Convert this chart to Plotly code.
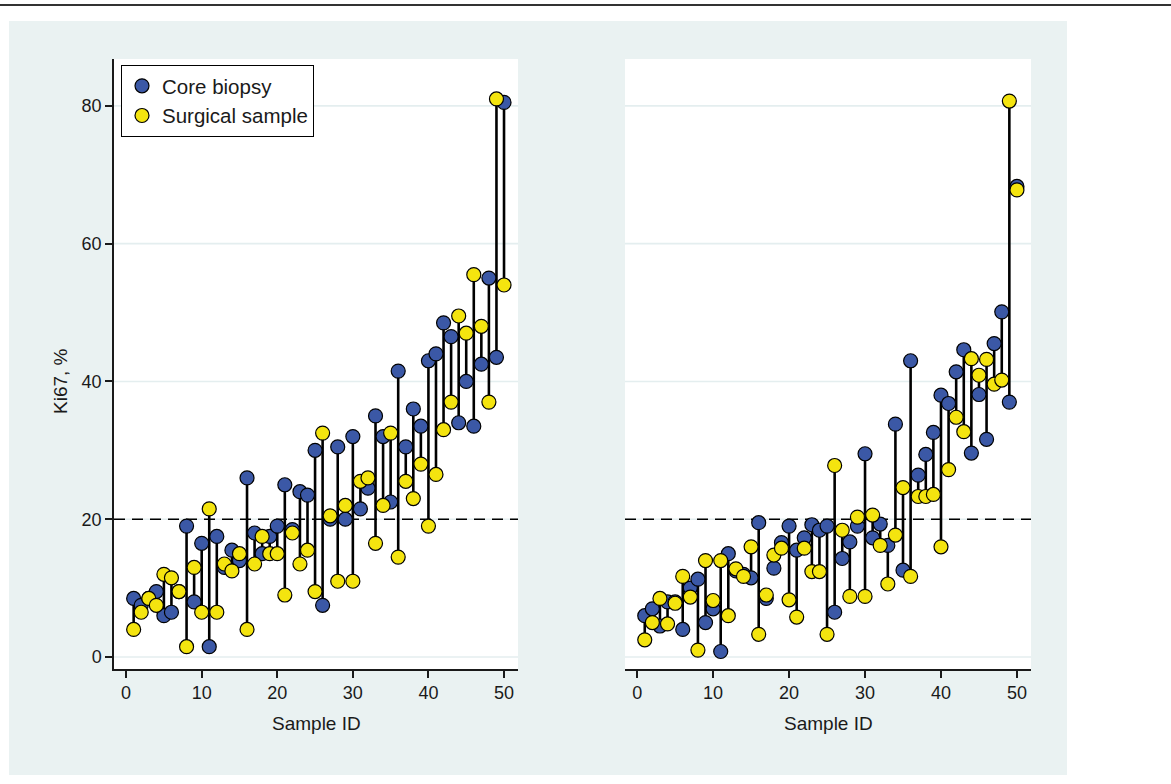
import plotly.graph_objects as go

# ---------------- data ----------------
sample_id = list(range(1, 51))

core_left = [8.5, 7.5, 8.5, 9.5, 6, 6.5, 9.5, 19, 8, 16.5,
             1.5, 17.5, 13, 15.5, 14, 26, 18, 15, 17.5, 19,
             25, 18.5, 24, 23.5, 30, 7.5, 20, 30.5, 20, 32,
             21.5, 24.5, 35, 32, 22.5, 41.5, 30.5, 36, 33.5, 43,
             44, 48.5, 46.5, 34, 40, 33.5, 42.5, 55, 43.5, 80.5]
surg_left = [4, 6.5, 8.5, 7.5, 12, 11.5, 9.5, 1.5, 13, 6.5,
             21.5, 6.5, 13.5, 12.5, 15, 4, 13.5, 17.5, 15, 15,
             9, 18, 13.5, 15.5, 9.5, 32.5, 20.5, 11, 22, 11,
             25.5, 26, 16.5, 22, 32.5, 14.5, 25.5, 23, 28, 19,
             26.5, 33, 37, 49.5, 47, 55.5, 48, 37, 81, 54]

core_right = [6, 7, 4.5, 8, 8, 4, 10, 11.3, 5, 7,
              0.8, 15, 12.5, 12, 11.5, 19.5, 8.5, 12.9, 16.6, 19,
              15.5, 17.3, 19.2, 18.4, 19, 6.5, 14.3, 16.7, 19, 29.5,
              17.3, 19.3, 16.2, 33.8, 12.6, 43, 26.4, 29.4, 32.6, 38,
              36.8, 41.4, 44.6, 29.6, 38.1, 31.6, 45.5, 50.1, 37, 68.3]
surg_right = [2.5, 5, 8.5, 4.8, 7.8, 11.7, 8.7, 1, 14, 8.2,
              14, 6, 12.8, 11.7, 16, 3.3, 9, 14.8, 15.8, 8.3,
              5.8, 15.8, 12.4, 12.4, 3.3, 27.8, 18.4, 8.8, 20.3, 8.8,
              20.6, 16.2, 10.6, 17.7, 24.6, 11.7, 23.3, 23.3, 23.6, 16,
              27.2, 34.8, 32.7, 43.3, 40.9, 43.2, 39.6, 40.2, 80.7, 67.8]

x_ticks = [0, 10, 20, 30, 40, 50]
y_ticks = [0, 20, 40, 60, 80]
threshold = 20
series_names = ["Core biopsy", "Surgical sample"]

# ---------------- style ----------------
W, H = 1171, 784
BLUE = "#3b58a6"
YELLOW = "#f4e40f"
TEAL = "#eaf2f2"
GRID = "#e4eeef"
INK = "#1a1a1a"
FONT = "Liberation Sans, Arial, Helvetica, sans-serif"


def px_x(p):
    return p / W


def px_y(p):
    return 1 - p / H


def connectors(x, a, b):
    xs, ys = [], []
    for xi, ai, bi in zip(x, a, b):
        xs += [xi, xi, None]
        ys += [ai, bi, None]
    return xs, ys


fig = go.Figure()

panels = [("x", "y", core_left, surg_left, True),
          ("x2", "y2", core_right, surg_right, False)]

for xa, ya, core, surg, show in panels:
    cx, cy = connectors(sample_id, core, surg)
    fig.add_trace(go.Scatter(x=cx, y=cy, mode="lines", xaxis=xa, yaxis=ya,
                             line=dict(color="black", width=2.6),
                             showlegend=False, hoverinfo="skip"))
    fig.add_trace(go.Scatter(x=sample_id, y=core, mode="markers", xaxis=xa, yaxis=ya,
                             name=series_names[0], showlegend=show,
                             marker=dict(size=14, color=BLUE,
                                         line=dict(color="black", width=1.2))))
    fig.add_trace(go.Scatter(x=sample_id, y=surg, mode="markers", xaxis=xa, yaxis=ya,
                             name=series_names[1], showlegend=show,
                             marker=dict(size=14, color=YELLOW,
                                         line=dict(color="black", width=1.2))))

shapes = [
    # white outside strips around the tinted graph region
    dict(type="rect", xref="paper", yref="paper", x0=0, x1=1, y0=px_y(21), y1=1,
         fillcolor="white", line_width=0, layer="below"),
    dict(type="rect", xref="paper", yref="paper", x0=px_x(1067), x1=1, y0=0, y1=1,
         fillcolor="white", line_width=0, layer="below"),
    dict(type="rect", xref="paper", yref="paper", x0=0, x1=px_x(9), y0=0, y1=1,
         fillcolor="white", line_width=0, layer="below"),
    dict(type="rect", xref="paper", yref="paper", x0=0, x1=1, y0=0, y1=px_y(775),
         fillcolor="white", line_width=0, layer="below"),
    # top rule
    dict(type="line", xref="paper", yref="paper", x0=0, x1=1, y0=px_y(5), y1=px_y(5),
         line=dict(color="#333333", width=2)),
]
for xa, ya in [("x", "y"), ("x2", "y2")]:
    for t in y_ticks:
        shapes.append(dict(type="line", xref=f"{xa} domain", yref=ya, x0=0, x1=1,
                           y0=t, y1=t, line=dict(color=GRID, width=1.6), layer="below"))
    shapes.append(dict(type="line", xref=f"{xa} domain", yref=ya, x0=0, x1=1,
                       y0=threshold, y1=threshold,
                       line=dict(color="black", width=1.6, dash="11px,7px"), layer="below"))

y_dom = [px_y(669), px_y(59)]
x_rng = [-1.6, 51.85]
y_rng = [-1.74, 86.8]

axis_common = dict(ticks="outside", ticklen=7, tickwidth=1.5, tickcolor=INK,
                   showgrid=False, zeroline=False,
                   tickfont=dict(size=18, color=INK, family=FONT))

fig.update_layout(
    width=W, height=H,
    margin=dict(l=0, r=0, t=0, b=0, pad=0),
    paper_bgcolor=TEAL, plot_bgcolor="white",
    font=dict(family=FONT, color=INK, size=18),
    xaxis=dict(domain=[px_x(114), px_x(518)], range=x_rng, tickvals=x_ticks, anchor="y",
               showline=True, linecolor=INK, linewidth=1.5, **axis_common),
    yaxis=dict(domain=y_dom, range=y_rng, tickvals=y_ticks, anchor="x",
               showline=True, linecolor=INK, linewidth=1.5, **axis_common),
    xaxis2=dict(domain=[px_x(625), px_x(1031)], range=x_rng, tickvals=x_ticks, anchor="y2",
                showline=True, linecolor=INK, linewidth=1.5, **axis_common),
    yaxis2=dict(domain=y_dom, range=y_rng, tickvals=y_ticks, anchor="x2",
                showline=False, showticklabels=False, ticks="", showgrid=False, zeroline=False),
    shapes=shapes,
    legend=dict(x=px_x(121), y=px_y(65), xanchor="left", yanchor="top",
                bgcolor="white", bordercolor="black", borderwidth=1,
                font=dict(size=20.5, color=INK, family=FONT), tracegroupgap=0),
    annotations=[
        dict(text="Ki67, %", xref="paper", yref="paper", x=px_x(60), y=px_y(381),
             textangle=-90, showarrow=False, font=dict(size=19, color=INK),
             xanchor="center", yanchor="middle"),
        dict(text="Sample ID", xref="x domain", yref="paper", x=0.5, y=px_y(723),
             showarrow=False, font=dict(size=19, color=INK),
             xanchor="center", yanchor="middle"),
        dict(text="Sample ID", xref="x2 domain", yref="paper", x=0.5, y=px_y(723),
             showarrow=False, font=dict(size=19, color=INK),
             xanchor="center", yanchor="middle"),
    ],
)

fig.write_html("out.html", config={"displayModeBar": False},
               post_script="document.body.style.margin='0';document.body.style.overflow='hidden';")
